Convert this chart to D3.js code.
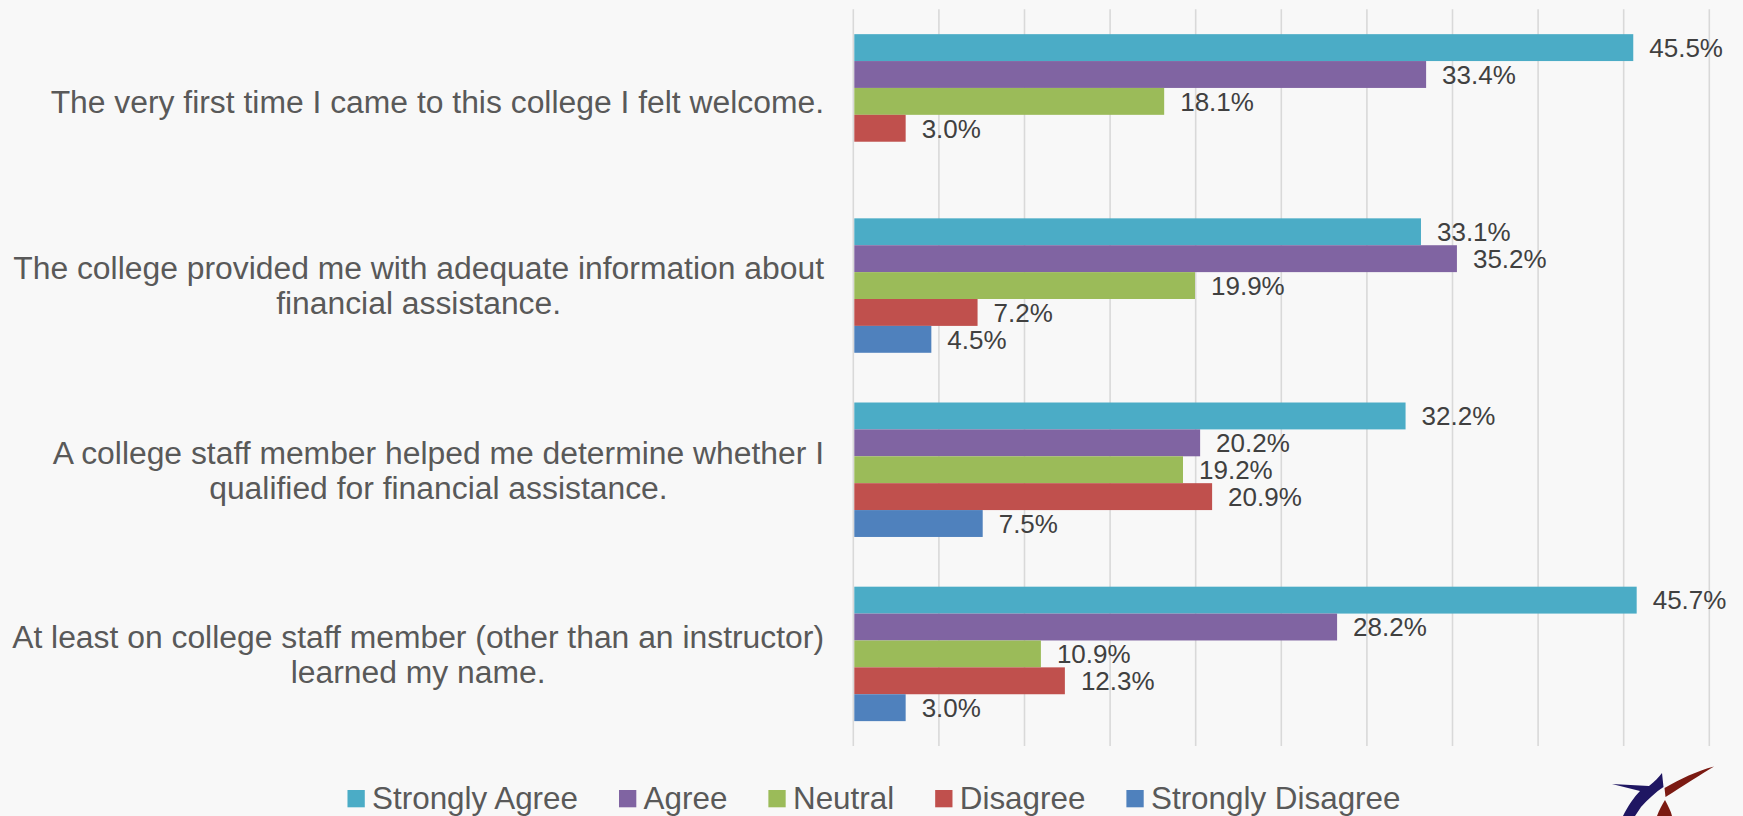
<!DOCTYPE html>
<html>
<head>
<meta charset="utf-8">
<script src="https://cdn.jsdelivr.net/npm/d3@7/dist/d3.min.js"></script>
<style>
  html, body { margin: 0; padding: 0; background: #f8f8f8; }
  svg { display: block; }
  text { font-family: "Liberation Sans", Arial, sans-serif; }
</style>
</head>
<body>
<svg id="chart" width="1743" height="816"></svg>
<script>
// Survey statements (each entry is a list of display lines)
const categories = [
  ["The very first time I came to this college I felt welcome."],
  ["The college provided me with adequate information about", "financial assistance."],
  ["A college staff member helped me determine whether I", "qualified for financial assistance."],
  ["At least on college staff member (other than an instructor)", "learned my name."]
];

const seriesNames = ["Strongly Agree", "Agree", "Neutral", "Disagree", "Strongly Disagree"];
const seriesColors = ["#4BACC6", "#8064A2", "#9BBB59", "#C0504D", "#4F81BD"];

// Share of responses per statement, in percent (null = no response shown)
const stronglyAgree    = [45.5, 33.1, 32.2, 45.7];
const agree            = [33.4, 35.2, 20.2, 28.2];
const neutral          = [18.1, 19.9, 19.2, 10.9];
const disagree         = [3.0, 7.2, 20.9, 12.3];
const stronglyDisagree = [null, 4.5, 7.5, 3.0];

const seriesValues = [stronglyAgree, agree, neutral, disagree, stronglyDisagree];

// Gridline positions in percent
const gridTicks = [0, 5, 10, 15, 20, 25, 30, 35, 40, 45, 50];

const svg = d3.select("#chart");

const plot = { left: 853.3, right: 1709.3, top: 9.3, bottom: 746 };

const x = d3.scaleLinear().domain([0, 50]).range([plot.left, plot.right]);

const y = d3.scaleBand()
  .domain(d3.range(categories.length))
  .range([plot.top, plot.bottom])
  .paddingInner(0.27)
  .paddingOuter(0.135);

const ySub = d3.scaleBand()
  .domain(d3.range(seriesNames.length))
  .range([0, y.bandwidth()])
  .padding(0);

// Vertical gridlines
svg.append("g")
  .selectAll("line")
  .data(gridTicks)
  .join("line")
  .attr("x1", d => x(d)).attr("x2", d => x(d))
  .attr("y1", plot.top).attr("y2", plot.bottom)
  .attr("stroke", "#d9d9d9")
  .attr("stroke-width", 1.6);

// Bars and value labels
const groups = svg.append("g")
  .selectAll("g")
  .data(categories.map((c, i) => i))
  .join("g")
  .attr("transform", i => `translate(0,${y(i)})`);

groups.each(function(ci) {
  const g = d3.select(this);
  const rows = seriesValues
    .map((vals, si) => ({ si, v: vals[ci] }))
    .filter(d => d.v != null);

  g.selectAll("rect")
    .data(rows)
    .join("rect")
    .attr("x", x(0) + 1)
    .attr("y", d => ySub(d.si))
    .attr("width", d => x(d.v) - x(0))
    .attr("height", ySub.bandwidth())
    .attr("fill", d => seriesColors[d.si]);

  g.selectAll("text")
    .data(rows)
    .join("text")
    .attr("x", d => x(d.v) + 17)
    .attr("y", d => ySub(d.si) + ySub.bandwidth() / 2 + 26 * 0.716 / 2)
    .attr("font-size", 26)
    .attr("fill", "#404040")
    .text(d => d.v.toFixed(1) + "%");
});

// Category labels: block right-aligned, lines centred within the block
const labelRight = 824;
const labelSize = 31.85;
const lineGap = 35;
const labels = svg.append("g");
categories.forEach((lines, i) => {
  const cy = y(i) + y.bandwidth() / 2;
  const t = labels.append("text")
    .attr("font-size", labelSize)
    .attr("fill", "#595959")
    .attr("text-anchor", "middle");
  const spans = lines.map((ln, k) => t.append("tspan")
    .attr("y", cy + labelSize * 0.716 / 2 + (k - (lines.length - 1) / 2) * lineGap)
    .text(ln));
  const widest = d3.max(spans, s => s.node().getComputedTextLength());
  spans.forEach(s => s.attr("x", labelRight - widest / 2));
});

// Legend, centred across the page
const legend = svg.append("g");
const legendBase = 809;
const legendItems = seriesNames.map((name, i) => {
  const g = legend.append("g");
  g.append("rect")
    .attr("x", 0).attr("y", legendBase - 19)
    .attr("width", 17.3).attr("height", 17.3)
    .attr("fill", seriesColors[i]);
  const t = g.append("text")
    .attr("x", 24.6).attr("y", legendBase)
    .attr("font-size", 31.4)
    .attr("fill", "#595959")
    .text(name);
  return { g, w: 24.6 + t.node().getComputedTextLength() };
});
const itemGap = 41;
const totalW = d3.sum(legendItems, d => d.w) + itemGap * (legendItems.length - 1);
let lx = 874 - totalW / 2;
legendItems.forEach(d => {
  d.g.attr("transform", `translate(${lx},0)`);
  lx += d.w + itemGap;
});

// Emblem in the lower right corner
const logo = svg.append("g");
logo.append("path")
  .attr("d", "M1612,784 L1649,786 C1655,781 1659,777 1662,773 L1663.5,787 C1656,792 1648,799 1641,807 L1635,816 L1623,816 C1628,806 1634,797 1640,791 Z")
  .attr("fill", "#1f1662");
logo.append("path")
  .attr("d", "M1664.5,788 C1680,779 1697,771 1714,766.5 C1700,775 1683,786 1665.5,797 Z")
  .attr("fill", "#7b1a12");
logo.append("path")
  .attr("d", "M1665,800 C1668,806 1671,811 1672,816 L1657,816 C1659,810 1662,805 1665,800 Z")
  .attr("fill", "#7b1a12");
</script>
</body>
</html>
